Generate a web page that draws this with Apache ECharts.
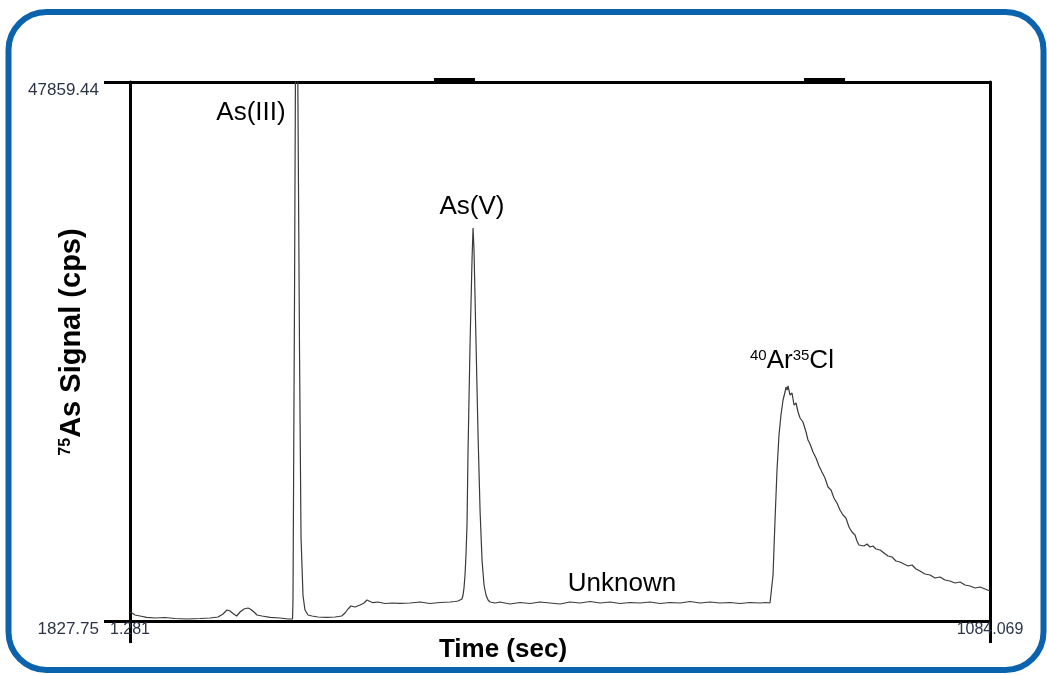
<!DOCTYPE html>
<html>
<head>
<meta charset="utf-8">
<script src="https://cdn.jsdelivr.net/npm/echarts@6/dist/echarts.min.js"></script>
<style>
  html, body { margin: 0; padding: 0; background: #fff; }
  #main { width: 1047px; height: 675px; }
</style>
</head>
<body>
<div id="main"></div>
<script>
// chromatogram: time (s) and 75As signal (cps)
var timeSec = [
  1.281, 3.8, 7.6, 13.9, 22.3, 32.8, 45.3, 57.9, 73.0, 89.4,
  102.0, 112.1, 118.4, 123.4, 127.2, 131.0, 135.6, 139.8, 144.8, 149.9,
  153.6, 157.4, 161.2, 167.5, 177.5, 190.1, 200.2, 205.9, 206.5, 208.4,
  210.3, 212.2, 214.7, 216.6, 219.1, 221.6, 225.4, 230.4, 238.0, 248.9,
  259.4, 267.8, 272.0, 275.8, 279.5, 284.6, 290.9, 295.9, 299.7, 303.5,
  307.2, 313.5, 322.3, 331.1, 341.2, 353.8, 366.4, 379.0, 391.6, 404.2,
  410.5, 414.3, 416.8, 419.3, 420.6, 421.8, 423.1, 424.3, 425.6, 426.9,
  429.4, 431.9, 433.2, 434.4, 437.0, 439.5, 442.0, 444.5, 447.0, 449.5,
  452.1, 454.6, 460.9, 467.1, 479.7, 492.3, 504.9, 517.5, 530.1, 542.7,
  555.3, 567.9, 580.5, 593.1, 605.7, 618.3, 630.9, 643.4, 656.0, 668.6,
  681.2, 693.8, 706.4, 719.0, 731.5, 744.1, 756.7, 769.3, 781.9, 794.5,
  802.1, 807.1, 809.6, 810.9, 813.4, 815.9, 818.4, 820.9, 823.5, 826.0,
  827.2, 828.5, 829.8, 832.3, 834.8, 837.3, 839.8, 842.4, 844.9, 848.6,
  852.4, 854.9, 857.5, 861.2, 865.0, 868.8, 872.5, 876.3, 880.1, 883.9,
  887.6, 891.4, 895.2, 899.0, 902.7, 906.5, 910.3, 914.1, 916.6, 919.1,
  921.6, 925.4, 929.2, 933.0, 936.7, 940.5, 945.6, 950.6, 955.6, 960.7,
  965.7, 970.8, 975.8, 980.8, 985.9, 990.9, 995.9, 1002.2, 1008.5, 1014.8,
  1021.1, 1027.4, 1033.7, 1040.0, 1046.3, 1052.6, 1058.9, 1065.2, 1071.5, 1077.8,
  1084.069
];
var signalCps = [
  2596, 2511, 2340, 2255, 2144, 2084, 2127, 2041, 1998, 2041,
  2084, 2169, 2426, 2767, 2682, 2468, 2255, 2596, 2853, 2938,
  2810, 2596, 2340, 2255, 2144, 2084, 1998, 1998, 3621, 29241,
  60000, 52000, 25000, 9000, 4000, 2767, 2340, 2255, 2169, 2144,
  2169, 2255, 2511, 2853, 3109, 3023, 3194, 3365, 3621, 3493,
  3390, 3450, 3322, 3365, 3340, 3365, 3450, 3322, 3408, 3450,
  3493, 3536, 3621, 3707, 4048, 4646, 5756, 7464, 10026, 16431,
  25398, 32657, 35390, 33511, 25398, 17712, 11307, 7037, 4902, 4048,
  3621, 3450, 3365, 3450, 3280, 3408, 3322, 3450, 3365, 3280,
  3450, 3365, 3493, 3365, 3450, 3322, 3408, 3365, 3450, 3322,
  3408, 3365, 3493, 3365, 3450, 3365, 3408, 3322, 3408, 3365,
  3408, 3365, 3365, 5756, 10453, 14723, 17712, 19420, 20701, 21384,
  21811, 21555, 21897, 21128, 21299, 20274, 20445, 19676, 19164, 18823,
  17968, 17285, 16943, 16260, 15748, 15064, 14552, 14040, 13271, 13015,
  12332, 11905, 11307, 10880, 10624, 9856, 9428, 9172, 8660, 8318,
  8403, 8233, 8403, 8147, 8233, 7976, 7891, 7635, 7379, 7293,
  6952, 6866, 6695, 6525, 6610, 6268, 6097, 5841, 5756, 5500,
  5585, 5329, 5243, 5073, 5158, 4902, 4817, 4646, 4731, 4561,
  4390
];
var xRange = [1.281, 1084.069];
var yRange = [1827.75, 47859.44];
var xTickLabels = ['1.281', '1084.069'];
var yTickLabels = ['1827.75', '47859.44'];

var chart = echarts.init(document.getElementById('main'));
var pts = timeSec.map(function (t, i) { return [t, signalCps[i]]; });
var black = '#000';
var labelColor = '#2c3448';

var option = {
  animation: false,
  backgroundColor: '#fff',
  grid: { left: 130, right: 57, top: 82, bottom: 54 },
  xAxis: [{
    type: 'value', min: xRange[0], max: xRange[1],
    splitLine: { show: false },
    axisLine: { lineStyle: { color: black, width: 3 } },
    axisTick: { show: true, customValues: xRange, length: 22, lineStyle: { color: black, width: 3 } },
    axisLabel: {
      customValues: xRange, margin: 1, fontSize: 16, color: labelColor,
      fontFamily: 'Liberation Sans, Arial, sans-serif',
      formatter: function (v) { return v === xRange[0] ? xTickLabels[0] : xTickLabels[1]; }
    }
  }, {
    type: 'value', position: 'top', min: xRange[0], max: xRange[1],
    splitLine: { show: false }, axisTick: { show: false }, axisLabel: { show: false },
    axisLine: { lineStyle: { color: black, width: 3 } }
  }],
  yAxis: [{
    type: 'value', min: yRange[0], max: yRange[1],
    splitLine: { show: false },
    axisLine: { show: true, lineStyle: { color: black, width: 3 } },
    axisTick: { show: true, customValues: yRange, length: 26, lineStyle: { color: black, width: 3 } },
    axisLabel: {
      customValues: yRange, margin: 31, fontSize: 17, color: labelColor, verticalAlign: 'top',
      fontFamily: 'Liberation Sans, Arial, sans-serif',
      formatter: function (v) { return v === yRange[0] ? yTickLabels[0] : yTickLabels[1]; }
    }
  }, {
    type: 'value', position: 'right', min: yRange[0], max: yRange[1],
    splitLine: { show: false }, axisTick: { show: false }, axisLabel: { show: false },
    axisLine: { show: true, lineStyle: { color: black, width: 3 } }
  }],
  series: [{
    type: 'line',
    data: pts,
    symbol: 'none',
    lineStyle: { color: '#3a3a3a', width: 1.2 }
  }],
  graphic: [
    { type: 'rect', z: -10, shape: { x: 8.5, y: 12, width: 1035, height: 658, r: 38 },
      style: { fill: 'none', stroke: '#0b63ad', lineWidth: 6 } },
    { type: 'rect', shape: { x: 434, y: 78, width: 41, height: 3 }, style: { fill: black } },
    { type: 'rect', shape: { x: 804, y: 78, width: 41, height: 3 }, style: { fill: black } },
    { type: 'text', x: 251, y: 113, style: { text: 'As(III)', font: '26px "Liberation Sans", Arial', fill: black, align: 'center', verticalAlign: 'middle' } },
    { type: 'text', x: 472, y: 207, style: { text: 'As(V)', font: '26px "Liberation Sans", Arial', fill: black, align: 'center', verticalAlign: 'middle' } },
    { type: 'text', x: 622, y: 584, style: { text: 'Unknown', font: '26px "Liberation Sans", Arial', fill: black, align: 'center', verticalAlign: 'middle' } },
    { type: 'text', x: 750, y: 348, style: {
        text: '{s|40}{b|Ar}{s|35}{b|Cl}', align: 'left', verticalAlign: 'top',
        rich: {
          s: { fontSize: 15, fontFamily: 'Liberation Sans', fill: black, verticalAlign: 'top', lineHeight: 26 },
          b: { fontSize: 26, fontFamily: 'Liberation Sans', fill: black, lineHeight: 26 }
        } } },
    { type: 'text', x: 503, y: 650, style: { text: 'Time (sec)', font: 'bold 26px "Liberation Sans", Arial', fill: black, align: 'center', verticalAlign: 'middle' } },
    { type: 'text', x: 72, y: 342, rotation: Math.PI / 2, style: {
        text: '{s|75}{b|As Signal (cps)}', align: 'center', verticalAlign: 'middle',
        rich: {
          s: { fontSize: 16, fontWeight: 'bold', fontFamily: 'Liberation Sans', fill: black, verticalAlign: 'top', lineHeight: 29 },
          b: { fontSize: 29, fontWeight: 'bold', fontFamily: 'Liberation Sans', fill: black, lineHeight: 29 }
        } } }
  ]
};
chart.setOption(option);
</script>
</body>
</html>
